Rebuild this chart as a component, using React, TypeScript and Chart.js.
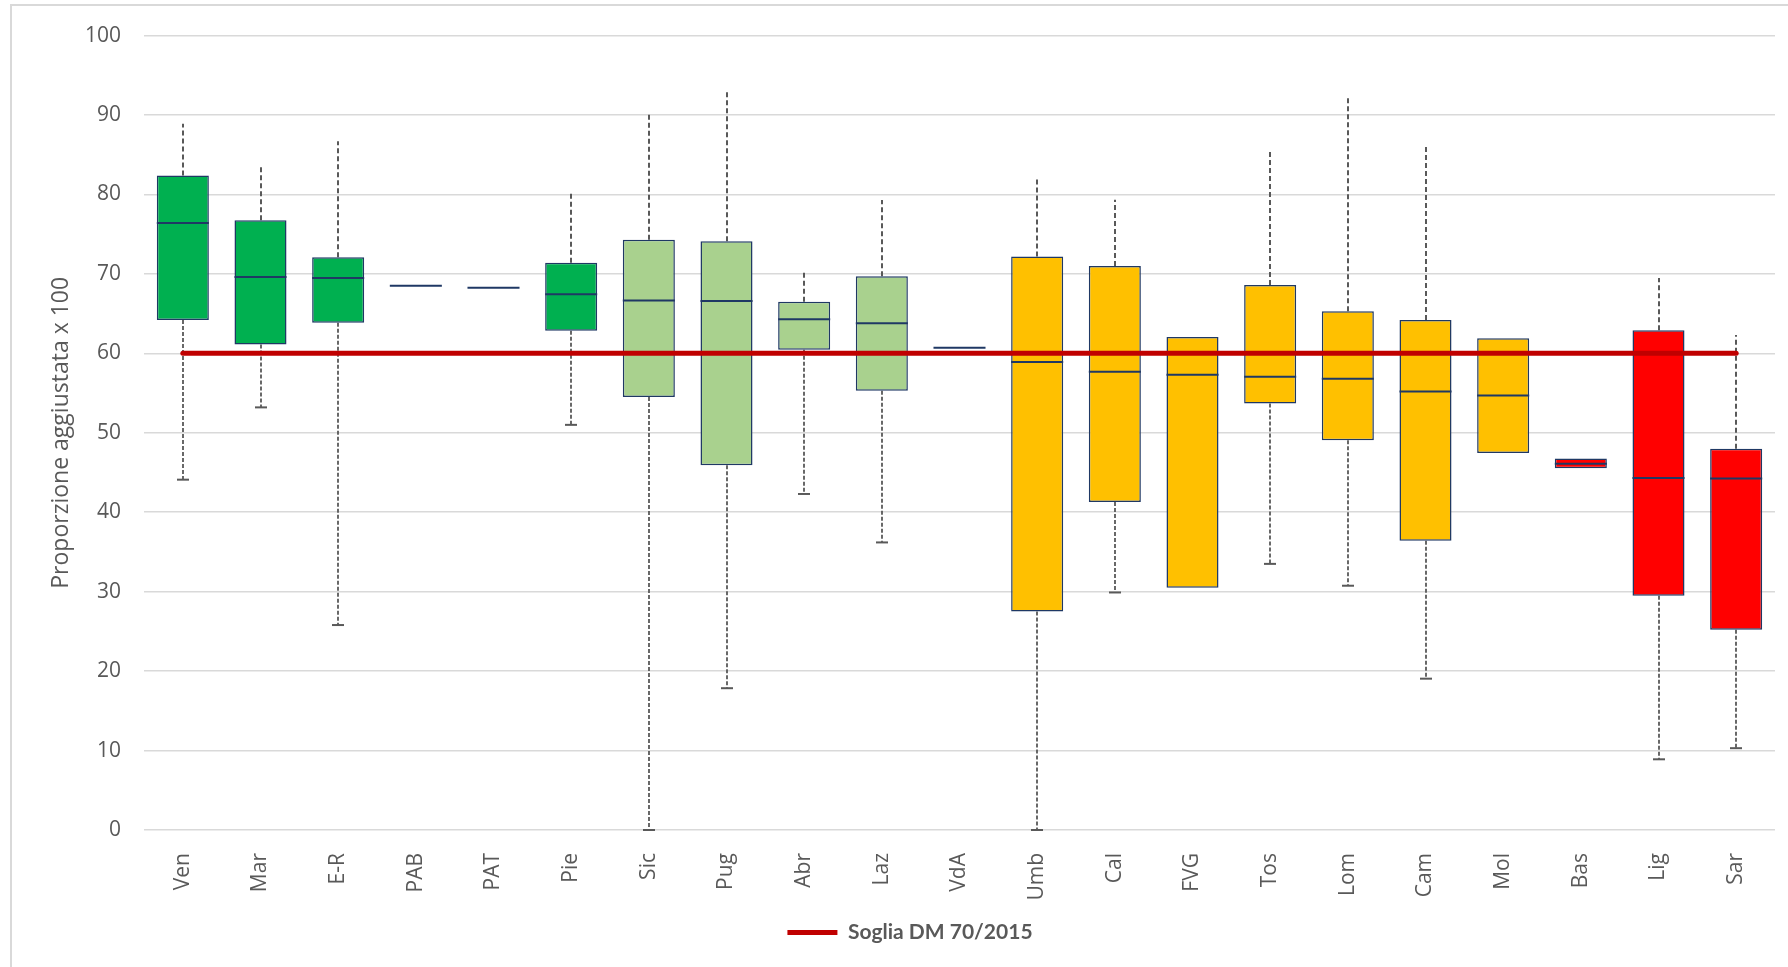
import React, { useEffect, useRef } from 'react';
import { Chart, registerables } from 'chart.js';

Chart.register(...registerables);

const categories = ['Ven', 'Mar', 'E-R', 'PAB', 'PAT', 'Pie', 'Sic', 'Pug', 'Abr', 'Laz', 'VdA', 'Umb', 'Cal', 'FVG', 'Tos', 'Lom', 'Cam', 'Mol', 'Bas', 'Lig', 'Sar'];
const minValues = [44.1, 53.2, 25.8, 68.5, 68.25, 51.0, 0, 17.85, 42.3, 36.2, 60.7, 0, 29.9, 30.5, 33.5, 30.75, 19.05, 47.45, 45.55, 8.9, 10.3];
const q1Values = [64.2, 61.1, 63.85, 68.5, 68.25, 62.85, 54.5, 45.9, 60.45, 55.3, 60.7, 27.5, 41.3, 30.5, 53.7, 49.05, 36.4, 47.45, 45.55, 29.5, 25.2];
const medianValues = [76.4, 69.6, 69.5, 68.5, 68.25, 67.45, 66.65, 66.6, 64.3, 63.8, 60.7, 58.9, 57.7, 57.3, 57.05, 56.8, 55.2, 54.7, 46.1, 44.3, 44.25];
const q3Values = [82.4, 76.75, 72.1, 68.5, 68.25, 71.4, 74.3, 74.1, 66.5, 69.7, 60.7, 72.2, 71.0, 62.05, 68.6, 65.3, 64.2, 61.9, 46.75, 62.9, 48.0];
const maxValues = [88.9, 83.5, 86.7, 68.5, 68.25, 80.2, 90.4, 93.0, 70.2, 79.3, 60.7, 81.9, 79.35, 62.05, 85.5, 92.2, 86.3, 61.9, 46.75, 69.5, 62.3];
const thresholdValues = [60, 60, 60, 60, 60, 60, 60, 60, 60, 60, 60, 60, 60, 60, 60, 60, 60, 60, 60, 60, 60];
const boxColors = [
  '#00B050', '#00B050', '#00B050', '#00B050', '#00B050', '#00B050',
  '#A9D18E', '#A9D18E', '#A9D18E', '#A9D18E', '#A9D18E',
  '#FFC000', '#FFC000', '#FFC000', '#FFC000', '#FFC000', '#FFC000', '#FFC000',
  '#FF0000', '#FF0000', '#FF0000',
];
const thresholdLabel = 'Soglia DM 70/2015';
const yTitle = 'Proporzione aggiustata x 100';

const TEXT = '#595959';
const NAVY = '#1F3864';
const WHISKER = '#595959';

const boxPlotPlugin = {
  id: 'boxPlotParts',
  beforeDatasetsDraw(chart: any) {
    const xs = chart.scales.x;
    const ys = chart.scales.y;
    const ctx = chart.ctx;
    ctx.save();
    ctx.strokeStyle = WHISKER;
    categories.forEach((_, i) => {
      const px = Math.round(xs.getPixelForValue(i));
      if (maxValues[i] > q3Values[i]) {
        ctx.lineWidth = 2;
        ctx.setLineDash([5, 3]);
        ctx.beginPath();
        ctx.moveTo(px, ys.getPixelForValue(q3Values[i]));
        ctx.lineTo(px, ys.getPixelForValue(maxValues[i]));
        ctx.stroke();
      }
      if (minValues[i] < q1Values[i]) {
        ctx.lineWidth = 1.8;
        ctx.setLineDash([4, 2]);
        ctx.beginPath();
        ctx.moveTo(px, ys.getPixelForValue(q1Values[i]));
        ctx.lineTo(px, ys.getPixelForValue(minValues[i]));
        ctx.stroke();
        ctx.setLineDash([]);
        ctx.lineWidth = 2;
        const yMin = ys.getPixelForValue(minValues[i]);
        ctx.beginPath();
        ctx.moveTo(px - 6, yMin);
        ctx.lineTo(px + 6, yMin);
        ctx.stroke();
      }
    });
    ctx.restore();
  },
  afterDatasetDraw(chart: any, args: any) {
    if (args.index !== 1) return;
    const ys = chart.scales.y;
    const ctx = chart.ctx;
    const meta = chart.getDatasetMeta(1);
    ctx.save();
    ctx.strokeStyle = NAVY;
    ctx.lineWidth = 2;
    categories.forEach((_, i) => {
      const bar = meta.data[i] as any;
      const yMed = ys.getPixelForValue(medianValues[i]);
      ctx.beginPath();
      ctx.moveTo(bar.x - bar.width / 2, yMed);
      ctx.lineTo(bar.x + bar.width / 2, yMed);
      ctx.stroke();
    });
    ctx.restore();
  },
};

export default function App() {
  const ref = useRef<HTMLCanvasElement>(null);

  useEffect(() => {
    if (!ref.current) return;
    const tickFont = { family: 'Open Sans', size: 21 };
    const chart = new Chart(ref.current, {
      type: 'bar',
      data: {
        labels: categories,
        datasets: [
          {
            type: 'line',
            label: thresholdLabel,
            data: thresholdValues,
            borderColor: '#C00000',
            backgroundColor: '#C00000',
            borderWidth: 5,
            borderCapStyle: 'round',
            pointRadius: 0,
            pointStyle: 'line',
            order: 0,
          } as any,
          {
            type: 'bar',
            label: 'box',
            data: categories.map((_, i) => [q1Values[i], q3Values[i]]),
            backgroundColor: boxColors,
            borderColor: NAVY,
            borderWidth: 1.5,
            borderSkipped: false,
            barPercentage: 0.67,
            categoryPercentage: 1,
            order: 1,
          } as any,
        ],
      },
      options: {
        responsive: false,
        animation: false,
        devicePixelRatio: 1,
        layout: { padding: { left: 45, right: 13, top: 34, bottom: 14 } },
        plugins: {
          legend: {
            position: 'bottom',
            labels: {
              filter: (item: any) => item.datasetIndex === 0,
              usePointStyle: true,
              pointStyle: 'line',
              pointStyleWidth: 50,
              color: TEXT,
              padding: 10,
              font: { family: 'Lato', weight: 'bold', size: 21 },
            },
          },
          tooltip: { enabled: false },
        },
        scales: {
          x: {
            grid: { display: false },
            border: { display: false },
            ticks: {
              minRotation: 90,
              maxRotation: 90,
              autoSkip: false,
              padding: 15,
              color: TEXT,
              font: tickFont,
            },
            afterFit: (s: any) => {
              s.height = 82;
            },
          },
          y: {
            min: 0,
            max: 100,
            ticks: { stepSize: 10, padding: 23, color: TEXT, font: tickFont },
            grid: { color: '#D9D9D9', lineWidth: 1.5, drawTicks: false },
            border: { display: false },
            title: {
              display: true,
              text: yTitle,
              color: TEXT,
              font: { family: 'Open Sans', size: 23 },
              padding: { top: 3, bottom: 0 },
            },
            afterFit: (s: any) => {
              s.width = 99;
            },
          },
        },
      } as any,
      plugins: [boxPlotPlugin],
    });
    return () => chart.destroy();
  }, []);

  return (
    <div style={{ position: 'fixed', left: 0, top: 0, width: 1788, height: 967, background: '#ffffff', overflow: 'hidden' }}>
      <div
        style={{
          position: 'absolute',
          left: 10,
          top: 4,
          width: 1800,
          height: 1000,
          border: '2px solid #D9D9D9',
          boxSizing: 'border-box',
        }}
      />
      <canvas ref={ref} width={1788} height={967} style={{ position: 'absolute', left: 0, top: 0, width: 1788, height: 967 }} />
    </div>
  );
}
